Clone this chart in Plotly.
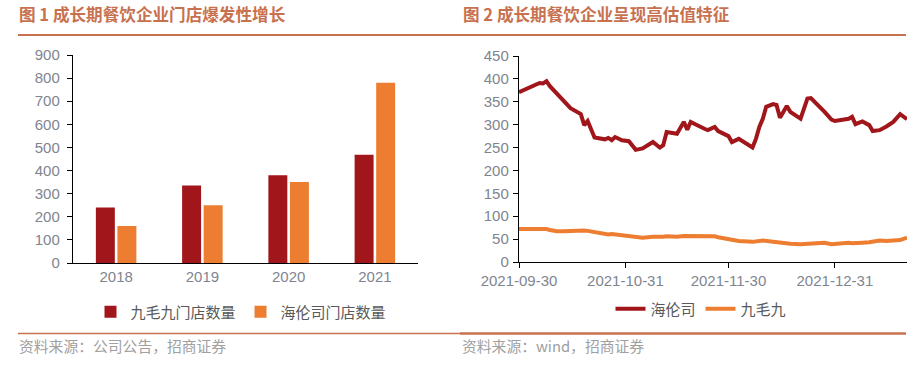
import plotly.graph_objects as go

# ---------------- data: figure 1 (store counts) ----------------
years = ["2018", "2019", "2020", "2021"]
jiumaojiu_stores = [240, 335, 380, 468]
helens_stores = [160, 250, 350, 780]
store_ticks = [0, 100, 200, 300, 400, 500, 600, 700, 800, 900]

# ---------------- data: figure 2 (valuation) ----------------
dates = [
    "2021-09-30", "2021-10-05", "2021-10-06", "2021-10-07", "2021-10-08", "2021-10-09",
    "2021-10-11", "2021-10-13", "2021-10-15", "2021-10-18", "2021-10-19", "2021-10-20",
    "2021-10-22", "2021-10-25", "2021-10-26", "2021-10-27", "2021-10-28", "2021-10-30",
    "2021-11-01", "2021-11-03", "2021-11-05", "2021-11-08", "2021-11-10", "2021-11-11",
    "2021-11-12", "2021-11-15", "2021-11-17", "2021-11-18", "2021-11-19", "2021-11-23",
    "2021-11-24", "2021-11-26", "2021-11-27", "2021-11-30", "2021-12-01", "2021-12-03",
    "2021-12-07", "2021-12-08", "2021-12-09", "2021-12-10", "2021-12-11", "2021-12-13",
    "2021-12-14", "2021-12-15", "2021-12-17", "2021-12-18", "2021-12-21", "2021-12-23",
    "2021-12-24", "2021-12-28", "2021-12-30", "2021-12-31", "2022-01-04", "2022-01-05",
    "2022-01-06", "2022-01-08", "2022-01-10", "2022-01-11", "2022-01-13", "2022-01-15",
    "2022-01-17", "2022-01-19", "2022-01-21",
]
helens_pe = [
    371, 386, 391, 390, 395, 384,
    369, 353, 336, 323, 299, 308,
    272, 268, 271, 266, 273, 266,
    264, 245, 248, 262, 250, 255,
    284, 280, 306, 289, 306, 291,
    288, 295, 286, 275, 262, 269,
    250, 269, 295, 313, 339, 345,
    343, 315, 341, 328, 313, 357,
    358, 328, 311, 308, 313, 317,
    301, 307, 299, 286, 288, 296,
    306, 323, 312,
]
jiumaojiu_pe = [
    72, 73, 73, 73, 72, 70,
    67, 67, 68, 68, 69, 68,
    65, 62, 60, 61, 60, 58,
    57, 54, 53, 55, 54, 55,
    56, 55, 57, 57, 56, 56,
    56, 56, 54, 50, 49, 46,
    44, 46, 46, 47, 46, 43,
    42, 41, 40, 40, 39, 40,
    40, 42, 39, 40, 42, 41,
    42, 42, 43, 44, 47, 46,
    46, 48, 53,
]
pe_ticks = [0, 50, 100, 150, 200, 250, 300, 350, 400, 450]
date_tickvals = ["2021-09-30", "2021-10-31", "2021-11-30", "2021-12-31"]
date_ticktext = ["2021-09-30", "2021-10-31", "2021-11-30", "2021-12-31"]

# ---------------- styling ----------------
W, H = 923, 377
RED = "#A0161A"
ORANGE = "#ED7D31"
ACCENT = "#C8714F"
TICK_COLOR = "#7F8590"
LEGEND_COLOR = "#595959"
SOURCE_COLOR = "#A0A0A0"
NUM_FONT = "Liberation Sans"
CJK_FONT = "Noto Sans CJK SC"


def px_x(x):
    return x / W


def px_y(y):
    return 1 - y / H


fig = go.Figure()

fig.add_trace(go.Bar(x=years, y=jiumaojiu_stores, name="九毛九门店数量",
                     marker=dict(color=RED, line=dict(width=0)),
                     xaxis="x", yaxis="y", legend="legend"))
fig.add_trace(go.Bar(x=years, y=helens_stores, name="海伦司门店数量",
                     marker=dict(color=ORANGE, line=dict(width=0)),
                     xaxis="x", yaxis="y", legend="legend"))

fig.add_trace(go.Scatter(x=dates, y=helens_pe, name="海伦司", mode="lines",
                         line=dict(color=RED, width=4),
                         xaxis="x2", yaxis="y2", legend="legend2"))
fig.add_trace(go.Scatter(x=dates, y=jiumaojiu_pe, name="九毛九", mode="lines",
                         line=dict(color=ORANGE, width=4),
                         xaxis="x2", yaxis="y2", legend="legend2"))

axis_common = dict(showgrid=False, zeroline=False, showline=True, automargin=False,
                   linecolor="#000000", linewidth=1.2,
                   tickfont=dict(family=NUM_FONT, size=15, color=TICK_COLOR))

fig.update_layout(
    width=W, height=H,
    margin=dict(l=0, r=0, t=0, b=0, autoexpand=False),
    paper_bgcolor="white", plot_bgcolor="white",
    barmode="group", bargap=0.5, bargroupgap=0.12,
    xaxis=dict(domain=[px_x(73), px_x(418)], anchor="y", type="category",
               ticks="", **axis_common),
    yaxis=dict(domain=[px_y(263), px_y(55)], anchor="x", range=[0, 900],
               tickvals=store_ticks, ticks="outside", ticklen=5, tickcolor="#000000",
               ticklabelstandoff=4, **axis_common),
    xaxis2=dict(domain=[px_x(519), px_x(907)], anchor="y2", type="date",
                range=[dates[0], dates[-1]], tickvals=date_tickvals, ticktext=date_ticktext,
                ticks="outside", ticklen=5, tickcolor="#000000", **axis_common),
    yaxis2=dict(domain=[px_y(262), px_y(56)], anchor="x2", range=[0, 450],
                tickvals=pe_ticks, ticks="outside", ticklen=5, tickcolor="#000000",
                ticklabelstandoff=1, **axis_common),
    legend=dict(orientation="h", x=px_x(241), xanchor="center", y=px_y(312), yanchor="middle",
                font=dict(family=CJK_FONT, size=15, color=LEGEND_COLOR),
                bgcolor="rgba(0,0,0,0)", itemwidth=30, tracegroupgap=0),
    legend2=dict(orientation="h", x=px_x(701), xanchor="center", y=px_y(309), yanchor="middle",
                 font=dict(family=CJK_FONT, size=15, color=LEGEND_COLOR),
                 bgcolor="rgba(0,0,0,0)", itemwidth=30),
    showlegend=True,
    hovermode=False,
)

# titles
fig.add_annotation(text="<b>图 1 成长期餐饮企业门店爆发性增长</b>", xref="paper", yref="paper",
                   x=px_x(17), y=px_y(14), xanchor="left", yanchor="middle", showarrow=False,
                   font=dict(family=CJK_FONT, size=16.6, color=ACCENT))
fig.add_annotation(text="<b>图 2 成长期餐饮企业呈现高估值特征</b>", xref="paper", yref="paper",
                   x=px_x(461), y=px_y(14), xanchor="left", yanchor="middle", showarrow=False,
                   font=dict(family=CJK_FONT, size=16.6, color=ACCENT))
# sources
fig.add_annotation(text="资料来源：公司公告，招商证券", xref="paper", yref="paper",
                   x=px_x(17), y=px_y(345), xanchor="left", yanchor="middle", showarrow=False,
                   font=dict(family=CJK_FONT, size=14.8, color=SOURCE_COLOR))
fig.add_annotation(text="资料来源：wind，招商证券", xref="paper", yref="paper",
                   x=px_x(460), y=px_y(345), xanchor="left", yanchor="middle", showarrow=False,
                   font=dict(family=CJK_FONT, size=14.8, color=SOURCE_COLOR))

# rule lines
for x0, x1, y, w in [(18, 460, 35, 2), (460, 906, 35, 2), (18, 460, 333.5, 1.5), (460, 906, 333.5, 2.5)]:
    fig.add_shape(type="line", xref="paper", yref="paper",
                  x0=px_x(x0), x1=px_x(x1), y0=px_y(y), y1=px_y(y),
                  line=dict(color=ACCENT, width=w))

fig.write_html("out.html", config={"displayModeBar": False, "staticPlot": True},
               post_script="document.body.style.margin='0';document.body.style.overflow='hidden';")
